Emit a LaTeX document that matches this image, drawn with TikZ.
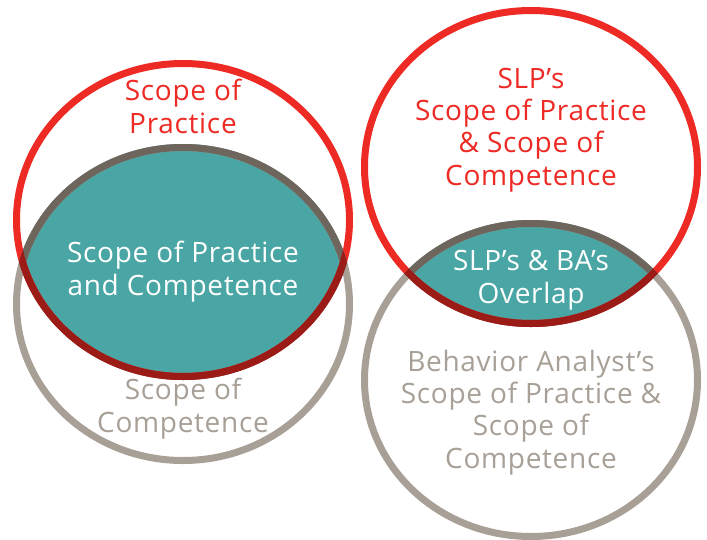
\documentclass[tikz,border=0pt]{standalone}
\usepackage{fontspec}
\setmainfont{Open Sans}[LetterSpace=2.5]
\definecolor{cred}{HTML}{ED2A24}
\definecolor{cgray}{HTML}{A8A097}
\definecolor{cteal}{HTML}{4AA6A5}
\definecolor{cdred}{HTML}{9B1B17}
\definecolor{cdgray}{HTML}{6E655C}
\begin{document}
\begin{tikzpicture}[x=1pt,y=-1pt,
  ring/.style={line width=7pt},
  lbl/.style={align=center,anchor=base,inner sep=0pt,font=\fontsize{28}{32.2}\selectfont}]
\useasboundingbox (0,0) rectangle (707,539);
\fill[white] (0,0) rectangle (707,539);
% ---------- left pair ----------
\coordinate (A) at (183,220);
\coordinate (B) at (183,304);
\begin{scope}
  \clip (A) ellipse [x radius=170, y radius=160];
  \fill[cteal] (B) ellipse [x radius=170, y radius=160];
\end{scope}
\draw[ring,cred] (A) ellipse [x radius=166.5, y radius=156.5];
\draw[ring,cgray] (B) ellipse [x radius=166.5, y radius=156.5];
\begin{scope}
  \clip (A) ellipse [x radius=170, y radius=160];
  \draw[ring,cdgray] (B) ellipse [x radius=166.5, y radius=156.5];
\end{scope}
\begin{scope}
  \clip (B) ellipse [x radius=170, y radius=160];
  \draw[ring,cdred] (A) ellipse [x radius=166.5, y radius=156.5];
\end{scope}
\node[lbl,text=cred] (sop) at (183,133) {Scope of\\Practice};
\node[lbl,text=white] (sopc) at (183,295) {Scope of Practice\\and Competence};
\node[lbl,text=cgray] (soc) at (183,432) {Scope of\\Competence};
% ---------- right pair ----------
\coordinate (C) at (531,167);
\coordinate (D) at (531,380);
\begin{scope}
  \clip (C) ellipse [x radius=170, y radius=160];
  \fill[cteal] (D) ellipse [x radius=170, y radius=160];
\end{scope}
\draw[ring,cred] (C) ellipse [x radius=166.5, y radius=156.5];
\draw[ring,cgray] (D) ellipse [x radius=166.5, y radius=156.5];
\begin{scope}
  \clip (C) ellipse [x radius=170, y radius=160];
  \draw[ring,cdgray] (D) ellipse [x radius=166.5, y radius=156.5];
\end{scope}
\begin{scope}
  \clip (D) ellipse [x radius=170, y radius=160];
  \draw[ring,cdred] (C) ellipse [x radius=166.5, y radius=156.5];
\end{scope}
\node[lbl,text=cred] (slp) at (531,185) {SLP’s\\Scope of Practice\\\& Scope of\\Competence};
\node[lbl,text=white] (ovl) at (531,303) {SLP’s \& BA’s\\Overlap};
\node[lbl,text=cgray] (ba) at (531,468) {Behavior Analyst’s\\Scope of Practice \&\\Scope of\\Competence};
\end{tikzpicture}
\end{document}
